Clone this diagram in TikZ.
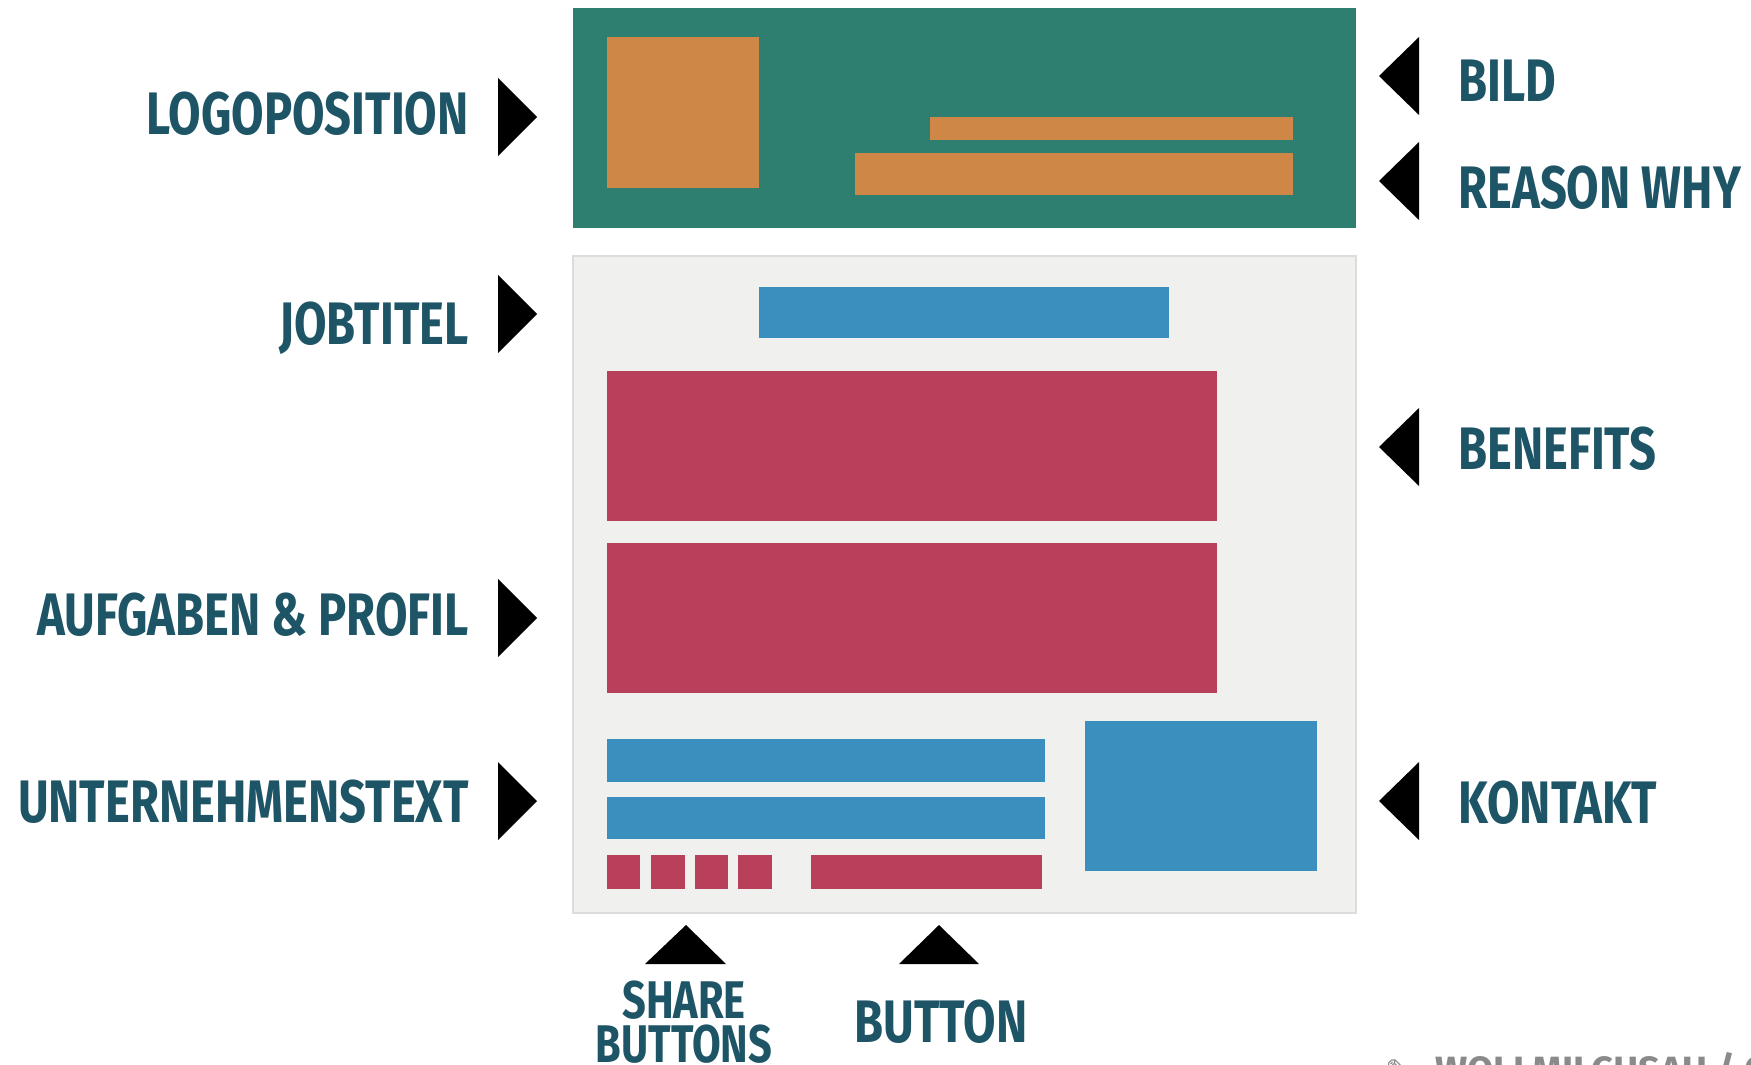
\documentclass[tikz,border=0pt]{standalone}
\usepackage{fontspec}
\newfontfamily\labfont{Fira Sans}[FakeStretch=0.785]
\newfontfamily\wmfont{Fira Sans}
\newfontfamily\symfont{DejaVu Sans}
\definecolor{labtext}{HTML}{1E5566}
\definecolor{hdrgreen}{HTML}{2E7F6F}
\definecolor{boxorange}{HTML}{CF8748}
\definecolor{pagegray}{HTML}{F0F0EE}
\definecolor{pageline}{HTML}{DCDCDA}
\definecolor{boxblue}{HTML}{3A8FBE}
\definecolor{boxred}{HTML}{B8405A}
\definecolor{wmgray}{HTML}{8A8A8A}
\tikzset{
  lab/.style={font=\labfont\bfseries\fontsize{30}{30}\selectfont, text=labtext, inner sep=0pt},
  smalllab/.style={font=\labfont\bfseries\fontsize{26.5}{26.5}\selectfont, text=labtext, inner sep=0pt},
  orangebox/.style={fill=boxorange},
  bluebox/.style={fill=boxblue},
  redbox/.style={fill=boxred},
  tri/.style={fill=black}
}
\begin{document}
\begin{tikzpicture}[x=0.5pt,y=-0.5pt]
\useasboundingbox (0,0) rectangle (1751,1065);
\clip (0,0) rectangle (1751,1065);
\fill[white] (0,0) rectangle (1751,1065);
% header
\fill[hdrgreen] (573,8) rectangle (1356,228);
\fill[orangebox] (607,37) rectangle (759,188);
\fill[orangebox] (930,117) rectangle (1293,140);
\fill[orangebox] (855,153) rectangle (1293,195);
% page body
\filldraw[fill=pagegray, draw=pageline, line width=1pt] (573,256) rectangle (1356,913);
\fill[bluebox] (759,287) rectangle (1169,338);
\fill[redbox] (607,371) rectangle (1217,521);
\fill[redbox] (607,543) rectangle (1217,693);
\fill[bluebox] (607,739) rectangle (1045,782);
\fill[bluebox] (607,797) rectangle (1045,839);
\fill[redbox] (607,855) rectangle (640,889);
\fill[redbox] (651,855) rectangle (685,889);
\fill[redbox] (695,855) rectangle (728,889);
\fill[redbox] (738,855) rectangle (772,889);
\fill[redbox] (811,855) rectangle (1042,889);
\fill[bluebox] (1085,721) rectangle (1317,871);
% left arrows
\foreach \c in {117,314,618,801}{
  \fill[tri] (498,\c-39) -- (537,\c) -- (498,\c+39) -- cycle;
}
% right arrows
\foreach \c in {76,181,447,801}{
  \fill[tri] (1419,\c-39) -- (1379,\c) -- (1419,\c+39) -- cycle;
}
% up arrows
\fill[tri] (645,964) -- (686,925) -- (726,964) -- cycle;
\fill[tri] (899,964) -- (939,925) -- (979,964) -- cycle;
% labels left
\node[lab, anchor=base east] (logo) at (469,134) {LOGOPOSITION};
\node[lab, anchor=base east] (job) at (469,344) {JOBTITEL};
\node[lab, anchor=base east] (auf) at (469,635) {AUFGABEN \& PROFIL};
\node[lab, anchor=base east] (unt) at (469,822) {UNTERNEHMENSTEXT};
% labels right
\node[lab, anchor=base west] (bild) at (1458,102) {BILD};
\node[lab, anchor=base west] (reason) at (1458,208) {REASON WHY};
\node[lab, anchor=base west] (ben) at (1458,469) {BENEFITS};
\node[lab, anchor=base west] (kon) at (1458,823) {KONTAKT};
% bottom labels
\node[smalllab, anchor=base] (share) at (684,1018) {SHARE};
\node[smalllab, anchor=base] (shareb) at (684,1062) {BUTTONS};
\node[lab, anchor=base] (btn) at (941,1042) {BUTTON};
% watermark (cut off)
\node[anchor=base west, inner sep=0pt, text=wmgray, font=\symfont\fontsize{16}{16}\selectfont] (wmicon) at (1385,1082) {✎};
\node[anchor=base west, inner sep=0pt, text=wmgray, font=\wmfont\bfseries\fontsize{19}{19}\selectfont] (wm) at (1435,1083) {WOLLMILCHSAU / C};
\end{tikzpicture}
\end{document}
